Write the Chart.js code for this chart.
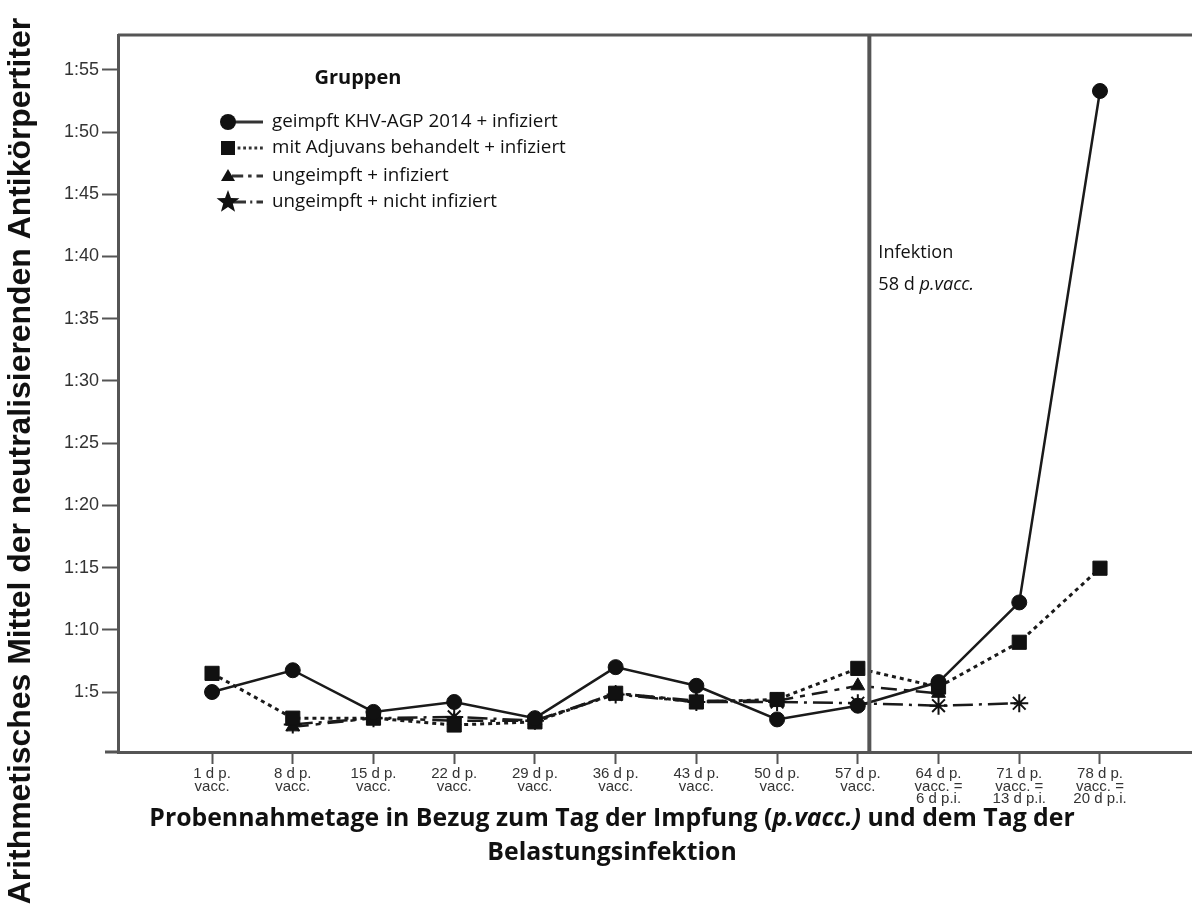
<!DOCTYPE html>
<html lang="de">
<head>
<meta charset="utf-8">
<title>Antikörpertiter</title>
<script src="https://cdn.jsdelivr.net/npm/chart.js@4"></script>
<style>
  html, body { margin: 0; padding: 0; background: #fff; overflow: hidden; }
  #wrap { width: 1192px; height: 920px; position: relative; }
  canvas { display: block; }
</style>
</head>
<body>
<div id="wrap"><canvas id="grafikTiter" width="1192" height="920"></canvas></div>
<script>
// Probennahmetage (Tage p.vacc.)
const tage = [1, 8, 15, 22, 29, 36, 43, 50, 57, 64, 71, 78];
const tickZeile1 = ["1 d p.", "8 d p.", "15 d p.", "22 d p.", "29 d p.", "36 d p.", "43 d p.", "50 d p.", "57 d p.", "64 d p.", "71 d p.", "78 d p."];
const tickZeile2 = ["vacc.", "vacc.", "vacc.", "vacc.", "vacc.", "vacc.", "vacc.", "vacc.", "vacc.", "vacc. =", "vacc. =", "vacc. ="];
const tickZeile3 = ["", "", "", "", "", "", "", "", "", "6 d p.i.", "13 d p.i.", "20 d p.i."];

// Mittelwerte (Kehrwert des Titers)
const geimpft        = [5.0, 6.75, 3.4, 4.2, 2.9, 7.0, 5.5, 2.8, 3.9, 5.8, 12.2, 53.3];
const adjuvans       = [6.5, 2.9, 2.9, 2.35, 2.6, 4.9, 4.2, 4.4, 6.9, 5.4, 9.0, 14.95];
const ungeimpftInf   = [null, 2.2, 2.9, 2.7, 2.7, 4.9, 4.3, 4.3, 5.5, 4.9, null, null];
const ungeimpftNicht = [null, 2.4, 2.9, 3.0, 2.7, 4.8, 4.2, 4.2, 4.1, 3.9, 4.1, null];

const yTicks = [5, 10, 15, 20, 25, 30, 35, 40, 45, 50, 55];
const infektionTag = 58;

const gruppen = [
  { label: "geimpft KHV-AGP 2014 + infiziert",     werte: geimpft,        punkt: "circle",   radius: 7.5, dash: [],            breite: 2.5 },
  { label: "mit Adjuvans behandelt + infiziert",  werte: adjuvans,       punkt: "rect",     radius: 10,  dash: [4, 4],        breite: 3 },
  { label: "ungeimpft + infiziert",               werte: ungeimpftInf,   punkt: "triangle", radius: 8,   dash: [16, 7, 5, 7], breite: 2.5 },
  { label: "ungeimpft + nicht infiziert",         werte: ungeimpftNicht, punkt: "star",     radius: 9,   dash: [20, 6, 3, 6], breite: 2.5 }
];

// Tag -> Position auf der Index-Achse
function tagZuIndex(tag) {
  for (let i = 0; i < tage.length - 1; i++) {
    if (tag >= tage[i] && tag <= tage[i + 1]) return i + (tag - tage[i]) / (tage[i + 1] - tage[i]);
  }
  return tage.length - 1;
}

const ACHSE = "#555";
const SCHWARZ = "#111";

function fitFont(ctx, text, style, family, zielBreite) {
  ctx.font = `${style} 20px ${family}`;
  const w = ctx.measureText(text).width;
  return 20 * zielBreite / w;
}

function drawRuns(ctx, runs, x, y, align) {
  let total = 0;
  runs.forEach(r => { ctx.font = r.font; total += ctx.measureText(r.text).width; });
  let cx = align === "center" ? x - total / 2 : x;
  ctx.textAlign = "left";
  runs.forEach(r => {
    ctx.font = r.font;
    ctx.fillText(r.text, cx, y);
    cx += ctx.measureText(r.text).width;
  });
}

function legendSymbol(ctx, typ, x, y) {
  ctx.fillStyle = SCHWARZ;
  ctx.beginPath();
  if (typ === "circle") {
    ctx.arc(x, y, 8, 0, Math.PI * 2);
  } else if (typ === "rect") {
    ctx.rect(x - 7, y - 7, 14, 14);
  } else if (typ === "triangle") {
    ctx.moveTo(x, y - 7); ctx.lineTo(x + 7, y + 5); ctx.lineTo(x - 7, y + 5); ctx.closePath();
  } else if (typ === "star") {
    for (let k = 0; k < 10; k++) {
      const r = k % 2 === 0 ? 12 : 5;
      const a = -Math.PI / 2 + k * Math.PI / 5;
      const px = x + r * Math.cos(a), py = y + r * Math.sin(a);
      if (k === 0) ctx.moveTo(px, py); else ctx.lineTo(px, py);
    }
    ctx.closePath();
  }
  ctx.fill();
}

const zusatzPlugin = {
  id: "zusatz",
  afterDraw(chart) {
    const ctx = chart.ctx;
    const ca = chart.chartArea;
    const xs = chart.scales.x;
    ctx.save();

    // obere Rahmenlinie + Verlängerung der x-Achse nach links
    ctx.strokeStyle = ACHSE;
    ctx.lineWidth = 3;
    ctx.beginPath();
    ctx.moveTo(ca.left, ca.top); ctx.lineTo(ca.right, ca.top);
    ctx.moveTo(ca.left - 13, ca.bottom); ctx.lineTo(ca.left, ca.bottom);
    ctx.stroke();

    // Infektionszeitpunkt
    const xi = xs.getPixelForValue(tagZuIndex(infektionTag));
    ctx.lineWidth = 4;
    ctx.beginPath();
    ctx.moveTo(xi, ca.top); ctx.lineTo(xi, ca.bottom);
    ctx.stroke();

    ctx.fillStyle = "#111";
    ctx.textBaseline = "middle";
    const fInf = fitFont(ctx, "Infektion", "normal", "'Open Sans'", 75);
    drawRuns(ctx, [{ text: "Infektion", font: `normal ${fInf}px 'Open Sans'` }], xi + 9, 253, "left");
    drawRuns(ctx, [
      { text: "58 d ", font: `normal ${fInf}px 'Open Sans'` },
      { text: "p.vacc.", font: `italic ${fInf}px 'Open Sans'` }
    ], xi + 9, 285, "left");

    // Legende
    const fG = fitFont(ctx, "Gruppen", "bold", "'Open Sans'", 87);
    drawRuns(ctx, [{ text: "Gruppen", font: `bold ${fG}px 'Open Sans'` }], 358, 78, "center");
    const fL = fitFont(ctx, gruppen[0].label, "normal", "'Open Sans'", 286);
    const zeilenY = [122, 148, 176, 202];
    gruppen.forEach((g, i) => {
      const y = zeilenY[i];
      ctx.strokeStyle = "#333";
      ctx.lineWidth = 3;
      ctx.setLineDash(g.dash.length ? g.dash.map(d => d * 0.7) : []);
      ctx.beginPath();
      ctx.moveTo(232, y); ctx.lineTo(263, y);
      ctx.stroke();
      ctx.setLineDash([]);
      legendSymbol(ctx, g.punkt, 228, y);
      ctx.fillStyle = "#111";
      drawRuns(ctx, [{ text: g.label, font: `normal ${fL}px 'Open Sans'` }], 272, y, "left");
    });

    // y-Achsentitel
    const yTitel = "Arithmetisches Mittel der neutralisierenden Antikörpertiter";
    const fY = fitFont(ctx, yTitel, "bold", "'Liberation Sans'", 887);
    ctx.translate(21, 461);
    ctx.rotate(-Math.PI / 2);
    ctx.textAlign = "center";
    ctx.font = `bold ${fY}px 'Liberation Sans'`;
    ctx.fillText(yTitel, 0, 0);
    ctx.setTransform(1, 0, 0, 1, 0, 0);

    // x-Achsentitel
    const z1a = "Probennahmetage in Bezug zum Tag der Impfung (";
    const z1b = "p.vacc.)";
    const z1c = " und dem Tag der";
    const fX = fitFont(ctx, z1a + z1b + z1c, "bold", "'Open Sans'", 930);
    drawRuns(ctx, [
      { text: z1a, font: `bold ${fX}px 'Open Sans'` },
      { text: z1b, font: `italic bold ${fX}px 'Open Sans'` },
      { text: z1c, font: `bold ${fX}px 'Open Sans'` }
    ], 612, 819, "center");
    drawRuns(ctx, [{ text: "Belastungsinfektion", font: `bold ${fX}px 'Open Sans'` }], 612, 853, "center");

    ctx.restore();
  }
};

const ctx = document.getElementById("grafikTiter").getContext("2d");

new Chart(ctx, {
  type: "line",
  data: {
    datasets: gruppen.map(g => ({
      label: g.label,
      data: g.werte.map((v, i) => ({ x: i, y: v })),
      borderColor: "#1a1a1a",
      backgroundColor: SCHWARZ,
      borderWidth: g.breite,
      borderDash: g.dash,
      pointStyle: g.punkt,
      pointRadius: g.radius,
      pointBorderWidth: g.punkt === "star" ? 2 : 1,
      pointBorderColor: SCHWARZ,
      pointBackgroundColor: SCHWARZ,
      tension: 0,
      fill: false,
      spanGaps: false
    }))
  },
  options: {
    responsive: false,
    animation: false,
    layout: { autoPadding: false, padding: { top: 35, right: 0, bottom: 0, left: 0 } },
    plugins: {
      legend: { display: false },
      tooltip: { enabled: false }
    },
    scales: {
      x: {
        type: "linear",
        min: -1.165,
        max: 12.14,
        afterBuildTicks: (s) => { s.ticks = tage.map((_, i) => ({ value: i })); },
        afterFit: (s) => { s.height = 920 - 752; s.paddingLeft = 0; s.paddingRight = 0; },
        grid: { drawOnChartArea: false, drawTicks: true, tickLength: 12, tickColor: ACHSE, tickWidth: 2 },
        border: { display: true, color: ACHSE, width: 3 },
        ticks: {
          autoSkip: false,
          maxRotation: 0,
          minRotation: 0,
          padding: 4,
          color: "#333",
          font: { family: "'Liberation Sans'", size: 15, lineHeight: 0.82 },
          callback: (v) => [tickZeile1[v], tickZeile2[v], tickZeile3[v]].filter(s => s)
        }
      },
      y: {
        min: 0.18,
        max: 57.8,
        afterBuildTicks: (s) => { s.ticks = yTicks.map(v => ({ value: v })); },
        afterFit: (s) => { s.width = 118; },
        grid: { drawOnChartArea: false, drawTicks: true, tickLength: 16, tickColor: ACHSE, tickWidth: 2 },
        border: { display: true, color: ACHSE, width: 3 },
        ticks: {
          padding: 3,
          color: "#333",
          font: { family: "'Liberation Sans'", size: 18 },
          callback: (v) => "1:" + v
        }
      }
    }
  },
  plugins: [zusatzPlugin]
});
</script>
</body>
</html>
